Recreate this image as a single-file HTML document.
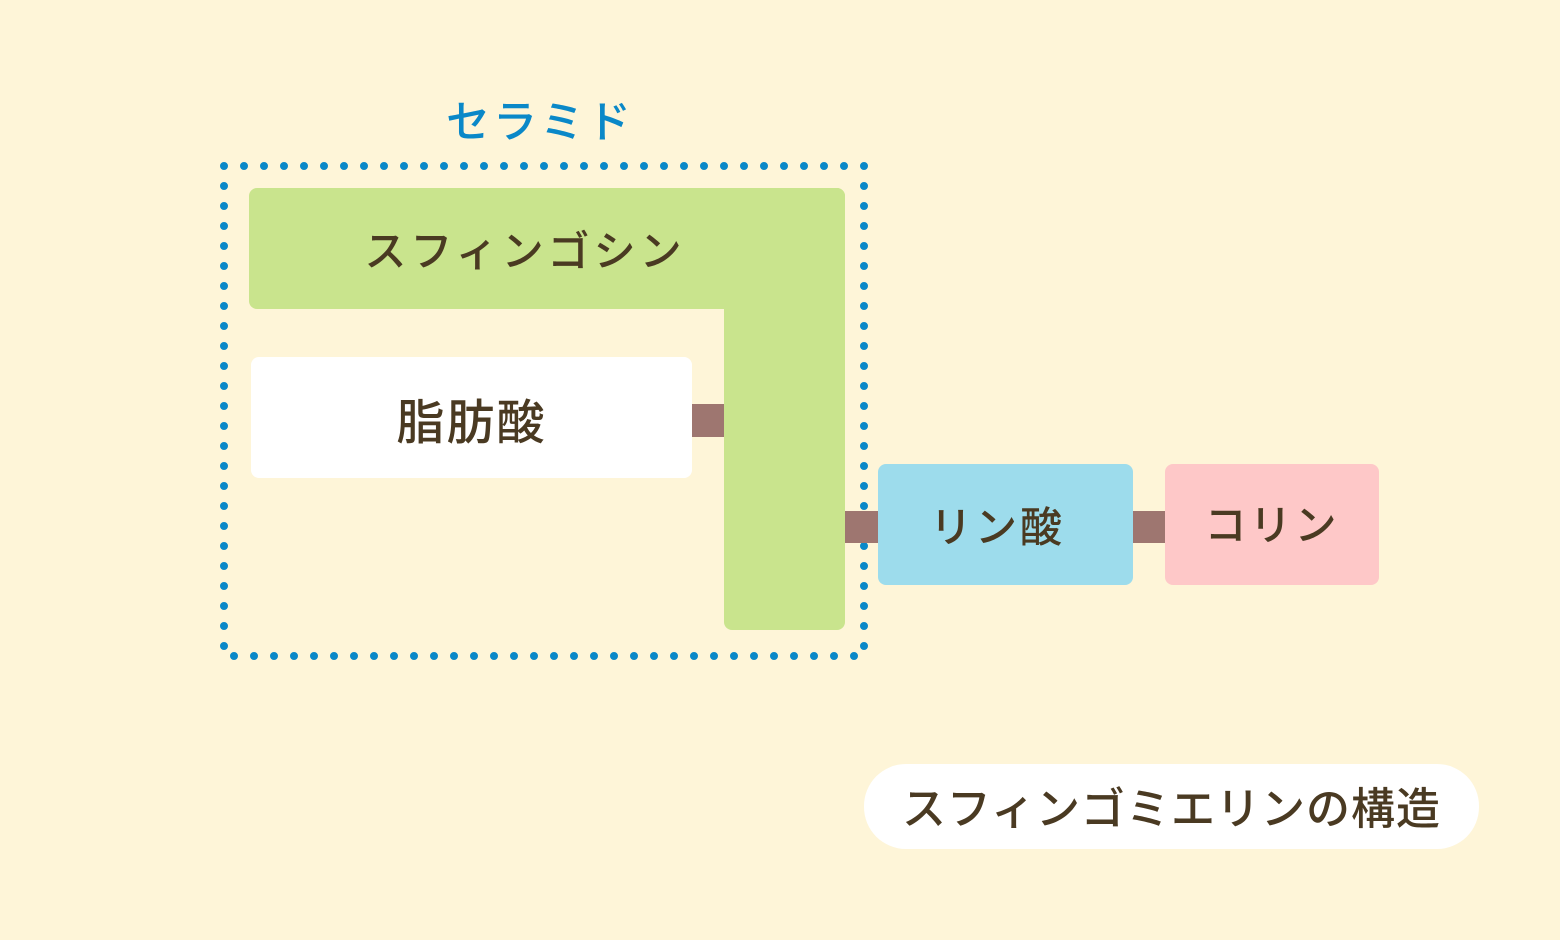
<!DOCTYPE html>
<html><head><meta charset="utf-8"><style>
body{margin:0;width:1560px;height:940px;background:#fef5d8;overflow:hidden;position:relative;font-family:"Liberation Sans","Noto Sans CJK JP",sans-serif;color:#4a3a22}
.b{position:absolute;display:flex;align-items:center;justify-content:center;font-size:42px;font-weight:500;letter-spacing:3px}
</style></head><body>
<svg width="1560" height="940" style="position:absolute;left:0;top:0">
<rect x="224" y="166" width="640" height="490" fill="none" stroke="#0a88c8" stroke-width="8" stroke-linecap="round" stroke-dasharray="0 20"/>
<rect x="249" y="188" width="596" height="121" rx="8" fill="#c9e48d"/>
<rect x="724" y="188" width="121" height="442" rx="8" fill="#c9e48d"/>
<rect x="692" y="404" width="32" height="33" fill="#9e7670"/>
<rect x="845" y="511" width="33" height="32" fill="#9e7670"/>
<rect x="1133" y="511" width="32" height="32" fill="#9e7670"/>
<rect x="251" y="357" width="441" height="121" rx="8" fill="#fff"/>
<rect x="878" y="464" width="255" height="121" rx="8" fill="#9ddcec"/>
<rect x="1165" y="464" width="214" height="121" rx="8" fill="#fec8c8"/>
<rect x="864" y="764" width="615" height="85" rx="42" fill="#fff"/>
</svg>
<div class="b" style="left:400px;top:88px;width:280px;height:60px;color:#0a88c8;font-size:44px">セラミド</div>
<div class="b" style="left:325px;top:188px;width:400px;height:121px;letter-spacing:4px">スフィンゴシン</div>
<div class="b" style="left:251px;top:357px;width:441px;height:121px;font-size:48px;letter-spacing:2px">脂肪酸</div>
<div class="b" style="left:870px;top:464px;width:255px;height:121px">リン酸</div>
<div class="b" style="left:1165px;top:462px;width:214px;height:121px">コリン</div>
<div class="b" style="left:864px;top:762px;width:615px;height:85px;font-size:44px;letter-spacing:1px">スフィンゴミエリンの構造</div>
</body></html>
